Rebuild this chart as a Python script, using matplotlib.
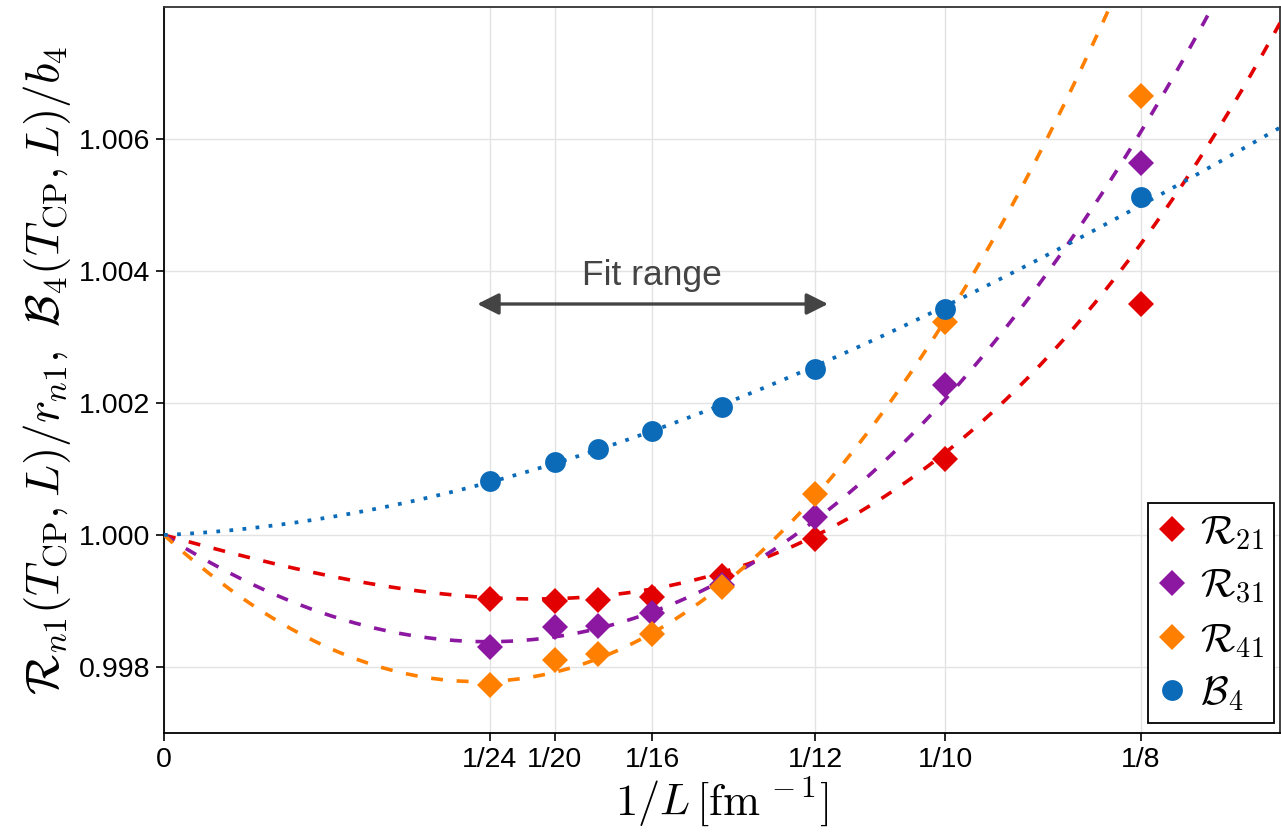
import numpy as np
import matplotlib
matplotlib.use("Agg")
import matplotlib.pyplot as plt

plt.rcParams['font.family'] = ['Liberation Sans', 'DejaVu Sans']
plt.rcParams['mathtext.fontset'] = 'cm'

# data: 1/L and the normalised ratios
inv_L = [1/24, 1/20, 1/18, 1/16, 1/14, 1/12, 1/10, 1/8]
r21 = [0.999030, 0.999000, 0.999015, 0.999060, 0.999379, 0.999939, 1.001152, 1.003500]
r31 = [0.998303, 0.998606, 0.998621, 0.998818, 0.999242, 1.000273, 1.002273, 1.005636]
r41 = [0.997727, 0.998106, 0.998197, 0.998500, 0.999212, 1.000621, 1.003227, 1.006652]
b4 = [1.000818, 1.001106, 1.001303, 1.001576, 1.001939, 1.002515, 1.003424, 1.005121]

# fit curves: 1 + 1e-3 * (c1 x + c2 x^2 + c3 x^3)
fit_r21 = [-32.661, 83.495, 3677.2]
fit_r31 = [-75.569, 826.31, 1349.3]
fit_r41 = [-108.24, 1258.0, 1500.6]
fit_b4 = [5.3828, 358.37, -655.04]

xticks = [0, 1/24, 1/20, 1/16, 1/12, 1/10, 1/8]
xtick_labels = ['0', '1/24', '1/20', '1/16', '1/12', '1/10', '1/8']
yticks = [0.998, 1.000, 1.002, 1.004, 1.006]

c_red = '#e30000'
c_purple = '#8c17a1'
c_orange = '#ff8000'
c_blue = '#0b6bb8'


def fit_curve(coef, x):
    return 1 + 1e-3 * (coef[0] * x + coef[1] * x**2 + coef[2] * x**3)


fig = plt.figure(figsize=(12.81, 8.34), dpi=100)
ax = fig.add_axes([164/1281, 101/834, 1116/1281, 726/834])

xx = np.linspace(0, 1/7, 400)
dash = (0, (3.3, 3.8))

ax.plot(xx, fit_curve(fit_r21, xx), color=c_red, lw=2.6, ls=dash, zorder=3)
ax.plot(xx, fit_curve(fit_r31, xx), color=c_purple, lw=2.6, ls=dash, zorder=3)
ax.plot(xx, fit_curve(fit_r41, xx), color=c_orange, lw=2.6, ls=dash, zorder=3)
ax.plot(xx, fit_curve(fit_b4, xx), color=c_blue, lw=2.7, ls=(0, (1, 2.5)), zorder=3)

ax.plot(inv_L, r21, 'D', color=c_red, ms=13, mew=0, ls='none', label=r'$\mathcal{R}_{21}$', zorder=4)
ax.plot(inv_L, r31, 'D', color=c_purple, ms=13, mew=0, ls='none', label=r'$\mathcal{R}_{31}$', zorder=4)
ax.plot(inv_L, r41, 'D', color=c_orange, ms=13, mew=0, ls='none', label=r'$\mathcal{R}_{41}$', zorder=4)
ax.plot(inv_L, b4, 'o', color=c_blue, ms=15, mew=0, ls='none', label=r'$\mathcal{B}_{4}$', zorder=5)

# fit range arrow
ax.annotate('', xy=(0.0850, 1.0035), xytext=(0.0401, 1.0035),
            arrowprops=dict(arrowstyle='<|-|>,head_length=13,head_width=6.5',
                            mutation_scale=1, lw=2.4, color='#444444',
                            shrinkA=0, shrinkB=0))
ax.text(1/16, 1.00379, 'Fit range', fontsize=25.5, color='#444444', ha='center', va='baseline')

ax.set_xlim(0, 1/7)
ax.set_ylim(0.997, 1.008)
ax.set_xticks(xticks)
ax.set_xticklabels(xtick_labels)
ax.set_yticks(yticks)
ax.set_yticklabels([f'{v:.3f}' for v in yticks])
ax.tick_params(labelsize=20.5, length=6, width=1.2, direction='out', colors='black', pad=4)
ax.grid(True, color='#e3e3e3', lw=1)
ax.set_axisbelow(True)
for s in ['left', 'bottom']:
    ax.spines[s].set_linewidth(1.3)
    ax.spines[s].set_color('black')
for s in ['top', 'right']:
    ax.spines[s].set_linewidth(1.3)
    ax.spines[s].set_color('#333333')

ax.set_xlabel(r'$1/L\,[\mathrm{fm}^{\,-1}]$', fontsize=32, labelpad=2)
ax.set_ylabel(r'$\mathcal{R}_{n1}(T_{\rm CP},L)/r_{n1},\ \mathcal{B}_4(T_{\rm CP},L)/b_4$',
              fontsize=34, labelpad=4)

leg = ax.legend(loc='lower right', bbox_to_anchor=(0.9946, 0.0138), borderaxespad=0,
                fontsize=29, frameon=True, fancybox=False, handlelength=0.7,
                handletextpad=0.35, labelspacing=0.36, borderpad=0.25, framealpha=1)
leg.get_frame().set_edgecolor('black')
leg.get_frame().set_linewidth(1.3)

fig.savefig('out.png', dpi=100)
